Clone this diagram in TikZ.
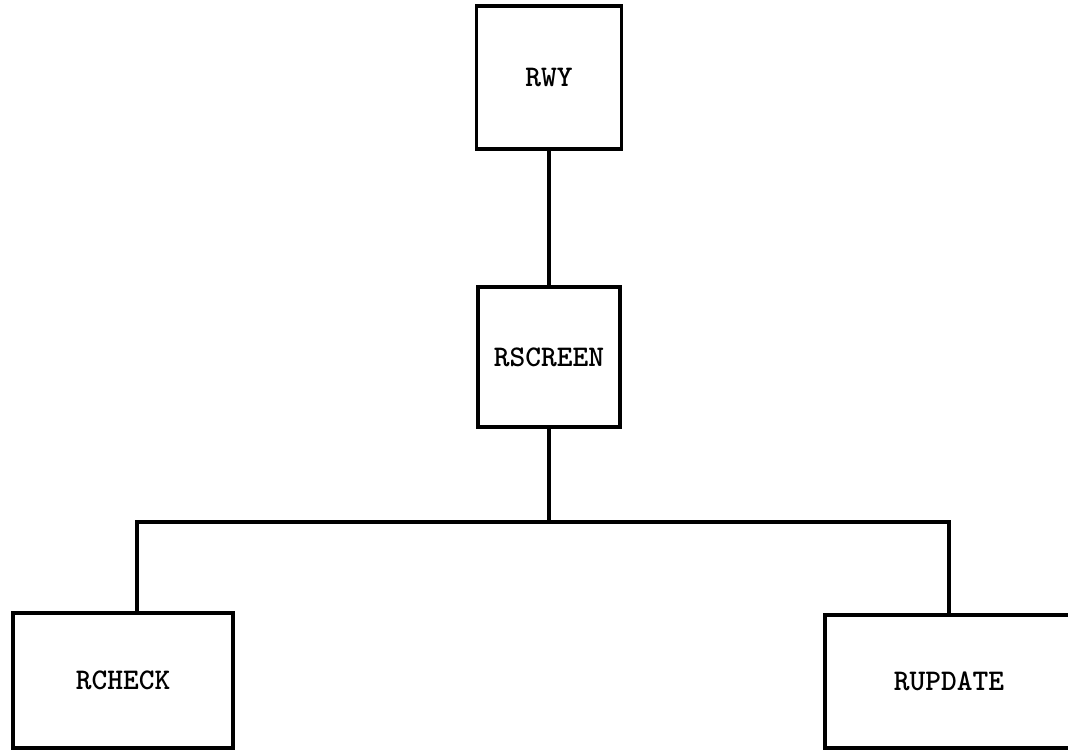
\documentclass[tikz,border=0pt]{standalone}
\usepackage{tikz}
\newcommand{\modfont}{\fontsize{30}{32}\selectfont\ttfamily\bfseries}

\begin{document}
\begin{tikzpicture}[x=1pt, y=1pt, line width=3.5pt,
    module/.style={draw, line width=3.5pt, inner sep=0pt, font=\modfont}]
    \useasboundingbox (0,0) rectangle (1068,753);
    \node[module, minimum width=145pt, minimum height=143pt] (rwy) at (549,675.5) {RWY};
    \node[module, minimum width=142pt, minimum height=140pt] (rscreen) at (549,396) {RSCREEN};
    \node[module, minimum width=220pt, minimum height=135pt] (rcheck) at (123,72.5) {RCHECK};
    \node[module, minimum width=248pt, minimum height=133pt] (rupdate) at (949,71.5) {RUPDATE};
    \coordinate (bus) at (549,231);
    \draw (rwy.south) -- (rscreen.north);
    \draw (rscreen.south) -- (bus);
    \draw ([xshift=14pt]rcheck.north) |- (bus) -| (rupdate.north);
\end{tikzpicture}
\end{document}
